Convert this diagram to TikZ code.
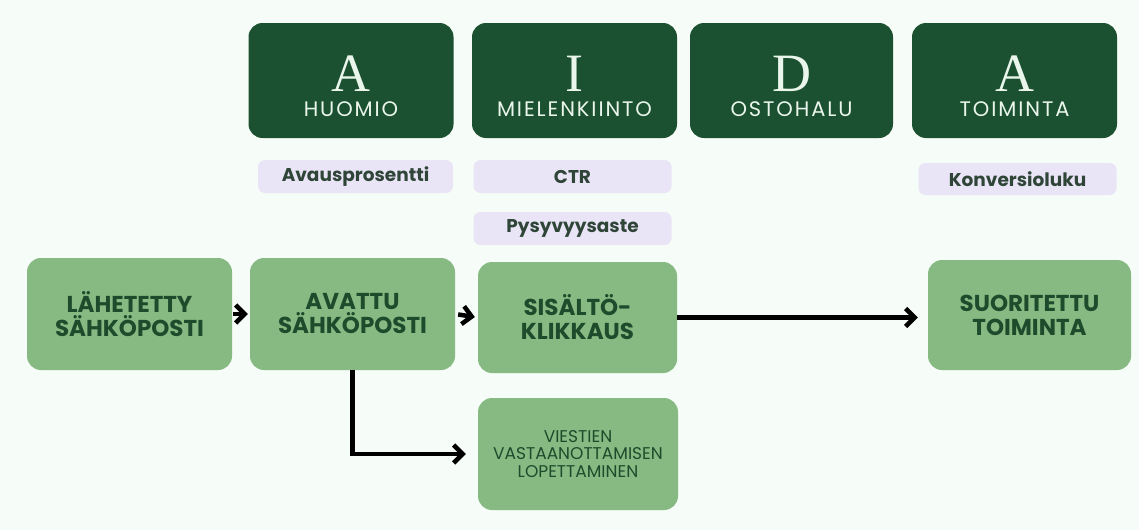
\documentclass[tikz,border=0pt]{standalone}
\usepackage{fontspec}
\setmainfont{Poppins}
\newfontfamily\wide[LetterSpace=9]{Poppins}
\newfontfamily\serifA{Liberation Serif}
\usetikzlibrary{arrows.meta}
\definecolor{bgc}{HTML}{F6FCF7}
\definecolor{darkg}{HTML}{1B5130}
\definecolor{lightg}{HTML}{87BA83}
\definecolor{lilac}{HTML}{EAE4F7}
\definecolor{txtg}{HTML}{1E4B2B}
\definecolor{txtp}{HTML}{2F4538}
\definecolor{mint}{HTML}{EAF6EC}
\tikzset{
  darkbox/.style={fill=darkg, rounded corners=14pt, minimum width=205pt, minimum height=115pt, inner sep=0pt},
  letterlbl/.style={text=mint, font=\serifA\fontsize{54}{54}\selectfont, inner sep=0pt},
  sublbl/.style={text=mint, font=\wide\fontsize{21}{22}\selectfont, inner sep=0pt},
  metric/.style={fill=lilac, rounded corners=7pt, minimum width=198pt, minimum height=33pt, inner sep=0pt, text=txtp, font=\bfseries\fontsize{18.5}{19}\selectfont},
  stepbox/.style={fill=lightg, rounded corners=14pt, minimum width=204pt, minimum height=112pt, inner sep=0pt, align=center, text=txtg, font=\bfseries\fontsize{23}{24}\selectfont},
  thinbox/.style={fill=lightg, rounded corners=14pt, minimum width=200pt, minimum height=112pt, inner sep=0pt, align=center, text=txtg, font=\fontsize{17}{17.5}\selectfont},
  arr/.style={line width=4.5pt, -{Straight Barb[length=9pt, width=18pt, line width=4.5pt]}},
}
\begin{document}
\begin{tikzpicture}[x=1pt,y=-1pt]
\fill[bgc] (0,0) rectangle (1139,530);
\useasboundingbox (0,0) rectangle (1139,530);
% AIDA header boxes
\node[darkbox] (dA) at (351,80.5) {};
\node[letterlbl] (dAl) at ([yshift=7pt]dA.center) {A};
\node[sublbl] (dAs) at ([yshift=-29pt]dA.center) {HUOMIO};
\node[darkbox] (dI) at (574.5,80.5) {};
\node[letterlbl] (dIl) at ([yshift=7pt]dI.center) {I};
\node[sublbl] (dIs) at ([yshift=-29pt]dI.center) {MIELENKIINTO};
\node[darkbox, minimum width=203pt] (dD) at (791.5,80.5) {};
\node[letterlbl] (dDl) at ([yshift=7pt]dD.center) {D};
\node[sublbl] (dDs) at ([yshift=-29pt]dD.center) {OSTOHALU};
\node[darkbox] (dT) at (1014.5,80.5) {};
\node[letterlbl] (dTl) at ([yshift=7pt]dT.center) {A};
\node[sublbl] (dTs) at ([yshift=-29pt]dT.center) {TOIMINTA};
% metrics
\node[metric, minimum width=195pt] (mA) at (355.5,176.5) {Avausprosentti};
\node[metric] (mC) at (572.5,176.5) {CTR};
\node[metric] (mP) at (572.5,228.5) {Pysyvyysaste};
\node[metric, minimum height=32pt] (mK) at (1017.5,179) {Konversioluku};
% flow boxes
\node[stepbox, minimum width=205pt] (gL) at (129.5,314) {LÄHETETTY\\SÄHKÖPOSTI};
\node[stepbox, minimum width=205pt] (gA) at (352.5,314) {AVATTU\\SÄHKÖPOSTI};
\node[stepbox, minimum width=199pt, minimum height=111pt] (gS) at (577.5,317.5) {SISÄLTÖ-\\KLIKKAUS};
\node[stepbox, minimum width=203pt, minimum height=110pt] (gU) at (1029.5,315) {SUORITETTU\\TOIMINTA};
\node[thinbox] (gV) at (578,454) {VIESTIEN\\VASTAANOTTAMISEN\\LOPETTAMINEN};
% connectors
\draw[arr, shorten <=1pt, shorten >=2pt] (gL.east) -- (gA.west);
\draw[arr, shorten <=3pt, shorten >=3pt] (gA.east) -- (gS.west);
\draw[arr, shorten >=10pt] (gS.east) -- (gS.east -| gU.west);
\draw[arr, shorten >=12pt] (gA.south) |- (gV.west);
\end{tikzpicture}
\end{document}
